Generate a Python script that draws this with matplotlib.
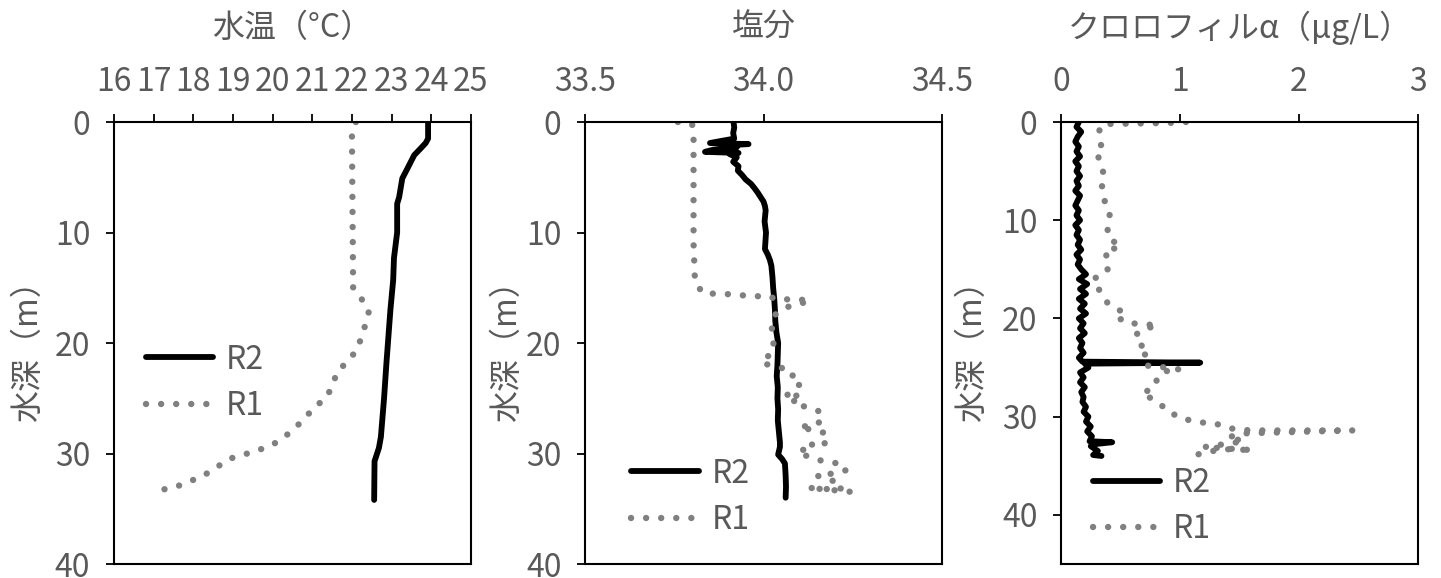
import matplotlib
matplotlib.use("Agg")
import matplotlib.pyplot as plt
from matplotlib.ticker import FormatStrFormatter, MultipleLocator

plt.rcParams['font.family'] = ['Noto Sans CJK JP', 'DejaVu Sans']

# ---- 水温 ----
r2_temp_depth = [0, 1.5, 1.9, 2.4, 3.0, 4.2, 5.1, 6.8, 7.4, 10.0, 12.3, 14.3,
                 17.0, 21.8, 25.0, 28.5, 29.5, 30.7, 34.2]
r2_temp = [23.92, 23.92, 23.86, 23.73, 23.57, 23.40, 23.27, 23.19, 23.14, 23.14,
           23.06, 23.04, 22.97, 22.87, 22.81, 22.73, 22.68, 22.57, 22.56]
r1_temp_depth = [0, 1.2, 15.0, 16.0, 17.1, 18.2, 19.5, 20.7, 21.7, 22.6, 23.9,
                 25.0, 25.8, 26.7, 27.6, 28.5, 29.2, 29.7, 30.1, 30.5, 31.2,
                 31.9, 32.5, 33.0, 33.3]
r1_temp = [22.1, 22.0, 22.03, 22.24, 22.43, 22.35, 22.24, 22.11, 21.88, 21.63,
           21.50, 21.35, 21.05, 20.84, 20.59, 20.30, 20.0, 19.64, 19.27, 18.89,
           18.61, 18.30, 17.93, 17.57, 17.19]

# ---- 塩分 ----
r2_sal_depth = [0, 0.5, 1.0, 1.5, 1.9, 2.0, 2.1, 2.3, 2.5, 2.7, 2.8, 2.9, 3.2,
                3.6, 4.0, 4.4, 4.8, 5.2, 5.6, 6.0, 6.4, 6.8, 7.2, 7.6, 8.0, 9,
                10, 11, 11.5, 12, 12.5, 13, 14, 15, 16, 17, 18, 19, 20, 21, 22,
                23, 24, 25, 26, 27, 28, 29, 29.4, 30.1, 30.5, 30.9, 32, 33, 34]
r2_sal = [33.916, 33.918, 33.915, 33.918, 33.850, 33.958, 33.900, 33.925,
          33.860, 33.836, 33.930, 33.905, 33.925, 33.915, 33.930, 33.928,
          33.940, 33.950, 33.965, 33.975, 33.984, 33.992, 34.000, 34.004,
          34.006, 34.003, 34.007, 34.005, 34.004, 34.012, 34.018, 34.022,
          34.025, 34.027, 34.030, 34.032, 34.033, 34.036, 34.041, 34.040,
          34.039, 34.037, 34.040, 34.039, 34.041, 34.040, 34.043, 34.046,
          34.046, 34.041, 34.052, 34.060, 34.062, 34.063, 34.062]
r1_sal_depth = [0, 0.2, 1, 11, 14.45, 15.5, 15.6, 15.8, 15.7, 16.1, 16.0, 16.2,
                16.8, 17.5, 18.8, 20.6, 21.8, 22.2, 22.4, 22.9, 23.6, 24.3, 24.9,
                24.7, 25.4, 25.8, 26.2, 26.7, 27.4, 27.6, 28.2, 29.2, 29.1, 29.6,
                29.7, 30.1, 30.7, 30.9, 31.5, 31.8, 32.0, 32.4, 32.7, 33.3, 33.2,
                33.1, 33.5, 33.9]
r1_sal = [33.76, 33.80, 33.804, 33.804, 33.808, 33.83, 33.92, 33.97, 34.01,
          34.04, 34.09, 34.13, 34.06, 34.03, 34.023, 34.03, 33.995, 34.04,
          34.075, 34.08, 34.107, 34.08, 34.06, 34.107, 34.08, 34.12, 34.158,
          34.167, 34.15, 34.10, 34.18, 34.17, 34.135, 34.14, 34.097, 34.11,
          34.167, 34.21, 34.233, 34.196, 34.15, 34.186, 34.22, 34.215, 34.17,
          34.125, 34.256, 34.28]

# ---- クロロフィル ----
r2_chl_depth = [0, 0.5, 1, 1.5, 2, 2.5, 3, 3.5, 4, 4.5, 5, 5.5, 6, 6.5, 7, 7.5,
                8, 8.5, 9, 9.5, 10, 10.5, 11, 11.5, 12, 12.5, 13, 13.5, 14,
                14.5, 15, 15.5, 16, 16.5, 17, 17.5, 18, 18.5, 19, 19.5, 20,
                20.5, 21, 21.5, 22, 22.5, 23, 23.5, 24, 24.4, 24.5, 24.6, 25,
                25.5, 26, 26.5, 27, 27.5, 28, 28.5, 29, 29.5, 30, 30.5, 31,
                31.5, 32, 32.5, 32.6, 32.8, 33, 33.5, 33.9, 34.0]
r2_chl = [0.15, 0.13, 0.17, 0.14, 0.12, 0.15, 0.13, 0.16, 0.12, 0.15, 0.13,
          0.16, 0.13, 0.15, 0.12, 0.16, 0.14, 0.12, 0.15, 0.13, 0.16, 0.12,
          0.15, 0.13, 0.16, 0.14, 0.17, 0.13, 0.16, 0.14, 0.17, 0.21, 0.15,
          0.22, 0.16, 0.21, 0.15, 0.20, 0.16, 0.21, 0.15, 0.19, 0.16, 0.20,
          0.15, 0.18, 0.16, 0.19, 0.15, 0.18, 1.17, 0.20, 0.23, 0.16, 0.19,
          0.16, 0.20, 0.17, 0.19, 0.18, 0.21, 0.19, 0.23, 0.21, 0.25, 0.22,
          0.26, 0.24, 0.43, 0.28, 0.25, 0.31, 0.27, 0.34]
r1_chl_depth = [0, 0.1, 0.15, 0.2, 0.4, 1.4, 2.5, 3.0, 3.6, 4.8, 5.2, 6.3, 7.3,
                8.3, 9.3, 10.4, 11.5, 12.8, 13.0, 13.8, 14.5, 15.3, 16.0, 17.5,
                18.4, 19.0, 19.6, 20.1, 20.5, 20.6, 20.7, 21.2, 21.8, 22.8, 23.1,
                24.1, 24.8, 25.0, 25.2, 25.4, 26.1, 27.1, 27.6, 28.0, 28.8, 29.3,
                29.9, 30.3, 30.6, 30.6, 31.2, 31.4, 31.4, 31.7, 32.1, 32.5, 33.1,
                33.4, 33.3, 34.0]
r1_chl = [1.05, 0.9, 0.64, 0.39, 0.33, 0.315, 0.34, 0.36, 0.315, 0.34, 0.36,
          0.34, 0.36, 0.37, 0.41, 0.40, 0.385, 0.5, 0.37, 0.385, 0.41, 0.38,
          0.27, 0.34, 0.39, 0.47, 0.55, 0.50, 0.60, 0.71, 0.81, 0.67, 0.62,
          0.68, 0.74, 0.68, 0.72, 0.89, 1.0, 0.86, 0.81, 0.78, 0.68, 0.74,
          0.83, 0.92, 0.96, 1.06, 1.17, 1.27, 1.43, 1.59, 2.45, 1.55, 1.40,
          1.54, 1.2, 1.61, 1.35, 1.09]

titles = ['水温（°C）', '塩分', 'クロロフィルα（μg/L）']
xlims = [(16, 25), (33.5, 34.5), (0, 3)]
xsteps = [1, 0.5, 1]
xfmts = ['%d', '%.1f', '%d']
ylims = [(40, 0), (40, 0), (45, 0)]
series = [
    (r2_temp, r2_temp_depth, r1_temp, r1_temp_depth),
    (r2_sal, r2_sal_depth, r1_sal, r1_sal_depth),
    (r2_chl, r2_chl_depth, r1_chl, r1_chl_depth),
]
lefts = [0.0791, 0.406, 0.7363]
ylabel_x = [-0.195, -0.174, -0.205]
legend_pos = [(0.09, 0.41), (0.13, 0.152), (0.09, 0.131)]

txt = '#595959'
fs = 23
fig = plt.figure(figsize=(14.41, 5.78), dpi=100)

for i in range(3):
    ax = fig.add_axes([lefts[i], 0.0242, 0.2477, 0.7647])
    x2, d2, x1, d1 = series[i]
    ax.plot(x2, d2, color='black', lw=4.2, label='R2', solid_joinstyle='round',
            solid_capstyle='round')
    ax.plot(x1, d1, color='#808080', lw=4.6, linestyle=(0, (0.01, 2.35)),
            dash_capstyle='round', label='R1')
    ax.set_xlim(*xlims[i])
    ax.set_ylim(*ylims[i])
    ax.xaxis.set_major_locator(MultipleLocator(xsteps[i]))
    ax.xaxis.set_major_formatter(FormatStrFormatter(xfmts[i]))
    ax.yaxis.set_major_locator(MultipleLocator(10))
    ax.xaxis.tick_top()
    ax.tick_params(axis='both', direction='out', length=6, width=1.3,
                   labelsize=fs, labelcolor=txt)
    ax.tick_params(axis='x', pad=11)
    ax.tick_params(axis='y', pad=11)
    for sp in ax.spines.values():
        sp.set_linewidth(1.5)
    ax.text(0.5, 1.213, titles[i], transform=ax.transAxes, ha='center',
            va='center', fontsize=fs, color=txt)
    ax.set_ylabel('水深（m）', fontsize=fs, color=txt)
    ax.yaxis.set_label_coords(ylabel_x[i], 0.5)
    ax.legend(loc='center left', bbox_to_anchor=legend_pos[i], frameon=False,
              fontsize=fs, labelcolor=txt, handlelength=2.1, handletextpad=0.4,
              labelspacing=0.45, borderpad=0, borderaxespad=0)

fig.savefig('out.png', dpi=100)
